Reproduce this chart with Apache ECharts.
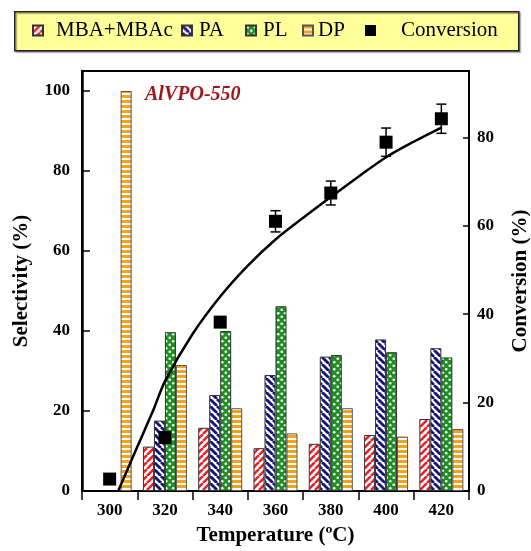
<!DOCTYPE html>
<html>
<head>
<meta charset="utf-8">
<script src="https://cdn.jsdelivr.net/npm/echarts@6/dist/echarts.min.js"></script>
<style>
html,body{margin:0;padding:0;background:#fff;}
#chart{width:531px;height:551px;}
</style>
</head>
<body>
<div id="chart"></div>
<script>
// ---- data ----
const temperatures = ['300', '320', '340', '360', '380', '400', '420'];
const mbaValues = ['-', 11.1, 15.8, 10.7, 11.8, 14.0, 18.0];
const paValues  = ['-', 17.6, 24.0, 29.0, 33.6, 37.9, 35.7];
const plValues  = ['-', 39.7, 40.0, 46.2, 34.0, 34.7, 33.4];
const dpValues  = [100, 31.5, 20.7, 14.4, 20.7, 13.6, 15.5];
const conversionValues = [2.7, 12.1, 38.2, 61.0, 67.4, 78.9, 84.2];
const conversionErrors = [0, 0, 0, 2.4, 2.7, 3.2, 3.3];
// fitted curve: [temperature, conversion]
const fitTemps = [303.1, 310, 315.8, 320, 330, 340, 350, 360, 370, 380, 390, 400, 410, 420];
const fitConv  = [0, 10.0, 18.3, 24.8, 35.5, 44.0, 51.0, 56.9, 61.8, 66.5, 71.1, 75.5, 79.0, 82.2];
const leftTicks = [0, 20, 40, 60, 80, 100];
const rightTicks = [0, 20, 40, 60, 80];

const FONT = "'Liberation Serif','Times New Roman',serif";

function stripes(bg, fg, p, w, dir) {
  const c = document.createElement('canvas'); c.width = p; c.height = p;
  const g = c.getContext('2d');
  g.fillStyle = bg; g.fillRect(0, 0, p, p);
  g.strokeStyle = fg; g.lineWidth = w;
  for (const o of [-p, 0, p]) {
    g.beginPath();
    if (dir > 0) { g.moveTo(o, p); g.lineTo(o + p, 0); }
    else { g.moveTo(o, 0); g.lineTo(o + p, p); }
    g.stroke();
  }
  return { image: c, repeat: 'repeat' };
}
function hstripes(bg, fg, p, h) {
  const c = document.createElement('canvas'); c.width = p; c.height = p;
  const g = c.getContext('2d');
  g.fillStyle = bg; g.fillRect(0, 0, p, p);
  g.fillStyle = fg; g.fillRect(0, 0, p, h);
  return { image: c, repeat: 'repeat' };
}
function dots(bg, fg, p, r) {
  const c = document.createElement('canvas'); c.width = p; c.height = p;
  const g = c.getContext('2d');
  g.fillStyle = bg; g.fillRect(0, 0, p, p);
  g.fillStyle = fg;
  for (const [x, y] of [[p * 0.25, p * 0.25], [p * 0.75, p * 0.75]]) {
    g.beginPath(); g.arc(x, y, r, 0, Math.PI * 2); g.fill();
  }
  return { image: c, repeat: 'repeat' };
}

const redPat = stripes('#ffffff', '#e8232b', 7, 2.6, 1);
const bluePat = stripes('#ffffff', '#15157f', 7, 2.8, -1);
const greenPat = dots('#1f8f24', '#ffffff', 7, 1.3);
const orangePat = hstripes('#ffffff', '#f5a21c', 5, 3);

const chart = echarts.init(document.getElementById('chart'));

const barBase = {
  type: 'bar', barWidth: 11, barGap: '0%',
  xAxisIndex: 0, yAxisIndex: 0
};

function legendItem(name, left, padLeft, icon, size) {
  return {
    data: [{ name: name, icon: icon || 'rect' }],
    left: left, top: 20, padding: 0,
    itemWidth: size || 10, itemHeight: size || 10,
    textStyle: { fontFamily: FONT, fontSize: 21, color: '#000', padding: [0, 0, 0, padLeft] },
    selectedMode: false
  };
}

const option = {
  animation: false,
  backgroundColor: '#fff',
  title: {
    text: 'AlVPO-550', left: 145, top: 85, padding: 0,
    textStyle: { fontFamily: FONT, fontSize: 20, fontStyle: 'italic', fontWeight: 'bold', color: '#a3141c' }
  },
  graphic: [{
    type: 'rect', left: 14, top: 11, z: -1,
    shape: { width: 504, height: 39 },
    style: { fill: '#ffff99', stroke: '#222', lineWidth: 1.5, shadowColor: 'rgba(0,0,0,0.35)', shadowOffsetX: 1.5, shadowOffsetY: 1.5, shadowBlur: 1 }
  }],
  legend: [
    legendItem('MBA+MBAc', 32, 8),
    legendItem('PA', 181, 2),
    legendItem('PL', 245, 2),
    legendItem('DP', 302, 0),
    legendItem('Conversion', 365, 20, 'rect', 11)
  ],
  grid: { left: 82, right: 62, top: 71, bottom: 60, show: true, borderColor: '#000', borderWidth: 2, backgroundColor: 'transparent', containLabel: false, outerBoundsMode: 'none' },
  xAxis: [{
    type: 'category', data: temperatures, boundaryGap: true,
    axisLine: { lineStyle: { color: '#000', width: 2 } },
    axisTick: { show: true, length: 9, lineStyle: { color: '#000', width: 1.5 } },
    axisLabel: { fontFamily: FONT, fontSize: 17, fontWeight: 'bold', color: '#000', margin: 11 },
    name: 'Temperature (ºC)', nameLocation: 'middle', nameGap: 34,
    nameTextStyle: { fontFamily: FONT, fontSize: 21, fontWeight: 'bold', color: '#000' }
  }, {
    type: 'value', min: 290, max: 430, show: false
  }],
  yAxis: [{
    type: 'value', min: 0, max: 105, interval: 20, position: 'left',
    axisLine: { show: true, lineStyle: { color: '#000', width: 2.5 } },
    axisTick: { show: true, inside: true, length: 8, lineStyle: { color: '#000', width: 1.5 } },
    axisLabel: {
      fontFamily: FONT, fontSize: 17, fontWeight: 'bold', color: '#000', margin: 12,
      formatter: v => leftTicks.includes(v) ? String(v) : ''
    },
    splitLine: { show: false },
    name: 'Selectivity (%)', nameLocation: 'middle', nameGap: 50, nameRotate: 90,
    nameTextStyle: { fontFamily: FONT, fontSize: 21, fontWeight: 'bold', color: '#000' }
  }, {
    type: 'value', min: 0, max: 95, interval: 20, position: 'right',
    axisLine: { show: true, lineStyle: { color: '#000', width: 2 } },
    axisTick: { show: true, inside: true, length: 6, lineStyle: { color: '#000', width: 1.5 } },
    axisLabel: {
      fontFamily: FONT, fontSize: 17, fontWeight: 'bold', color: '#000', margin: 8,
      formatter: v => rightTicks.includes(v) ? String(v) : ''
    },
    splitLine: { show: false },
    name: 'Conversion (%)', nameLocation: 'middle', nameGap: 41, nameRotate: 90,
    nameTextStyle: { fontFamily: FONT, fontSize: 21, fontWeight: 'bold', color: '#000' }
  }],
  series: [
    Object.assign({}, barBase, { name: 'MBA+MBAc', data: mbaValues, itemStyle: { color: redPat, borderColor: '#333', borderWidth: 1 } }),
    Object.assign({}, barBase, { name: 'PA', data: paValues, itemStyle: { color: bluePat, borderColor: '#333', borderWidth: 1 } }),
    Object.assign({}, barBase, { name: 'PL', data: plValues, itemStyle: { color: greenPat, borderColor: '#333', borderWidth: 1 } }),
    Object.assign({}, barBase, { name: 'DP', data: dpValues, itemStyle: { color: orangePat, borderColor: '#555', borderWidth: 1 } }),
    {
      name: 'fit', type: 'line', xAxisIndex: 1, yAxisIndex: 1, smooth: 0.3,
      data: fitTemps.map((t, i) => [t, fitConv[i]]),
      symbol: 'none', lineStyle: { color: '#000', width: 2.5 }, z: 5
    },
    {
      name: 'err', type: 'custom', xAxisIndex: 0, yAxisIndex: 1, z: 6,
      data: temperatures.map((t, i) => [i, conversionValues[i], conversionErrors[i]]),
      encode: { x: 0, y: 1 },
      renderItem: function (params, api) {
        const i = api.value(0), v = api.value(1), e = api.value(2);
        if (!e) return;
        const top = api.coord([i, v + e]);
        const bot = api.coord([i, v - e]);
        const hw = 5;
        const st = { stroke: '#000', lineWidth: 1.5 };
        return {
          type: 'group', children: [
            { type: 'line', shape: { x1: top[0], y1: top[1], x2: bot[0], y2: bot[1] }, style: st },
            { type: 'line', shape: { x1: top[0] - hw, y1: top[1], x2: top[0] + hw, y2: top[1] }, style: st },
            { type: 'line', shape: { x1: bot[0] - hw, y1: bot[1], x2: bot[0] + hw, y2: bot[1] }, style: st }
          ]
        };
      }
    },
    {
      name: 'Conversion', type: 'scatter', xAxisIndex: 0, yAxisIndex: 1, z: 7,
      data: conversionValues, symbol: 'rect', symbolSize: 13,
      itemStyle: { color: '#000', opacity: 1 }
    }
  ]
};
chart.setOption(option);
</script>
</body>
</html>
